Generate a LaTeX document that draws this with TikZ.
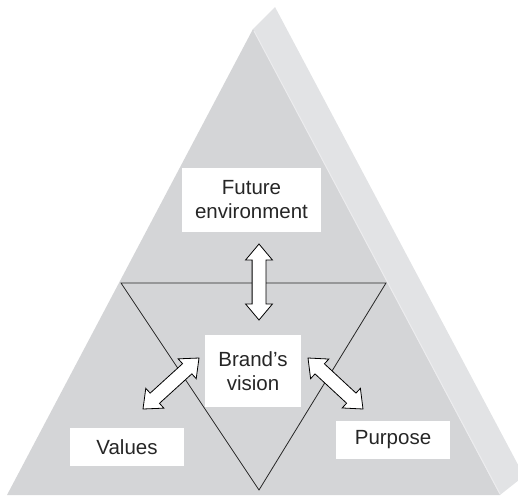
\documentclass[tikz,border=0pt]{standalone}
\usepackage{fontspec}
\setmainfont{Liberation Sans}
\usetikzlibrary{shapes.arrows,calc}
\definecolor{frontgray}{HTML}{D4D5D7}
\definecolor{sidegray}{HTML}{E2E3E5}
\definecolor{edgehl}{HTML}{ECECEE}
\tikzset{
  label box/.style={fill=white, inner sep=0pt, align=center, font=\fontsize{20.5}{24}\selectfont, text=black!85},
  block arrow/.style={double arrow, draw=black, line width=0.8pt, fill=white, inner xsep=0pt, inner ysep=6.5pt,
    minimum width=26pt, double arrow head extend=6.5pt, double arrow tip angle=80, anchor=center},
  inner tri/.style={draw=black!85, line width=0.8pt}
}
\newcommand{\blockarr}[3]{%
  \path let \p1=(#2), \p2=(#3), \n1={atan2(\y2-\y1,\x2-\x1)}, \n2={veclen(\x2-\x1,\y2-\y1)} in
    node[block arrow, minimum height=\n2, rotate=\n1] (#1) at ($(#2)!0.5!(#3)$) {};}
\begin{document}
\begin{tikzpicture}[x=1pt,y=-1pt]
\useasboundingbox (0,0) rectangle (518,497);
% pyramid faces
\fill[sidegray] (253,29) -- (275,7) -- (524,476) -- (500,495) -- cycle;
\fill[frontgray] (253,29) -- (7,495) -- (500,495) -- cycle;
\draw[edgehl, line width=1pt] (254,31) -- (500,494);
% inner inverted triangle
\draw[inner tri] (121,283) -- (386,283) -- (259,490) -- cycle;
% labels
\node[label box, minimum width=139pt, minimum height=64pt] (future) at (251.5,200) {Future\\environment};
\node[label box, minimum width=96pt, minimum height=72pt] (vision) at (253,371) {Brand’s\\vision};
\node[label box, minimum width=114pt, minimum height=38pt] (values) at (127,447) {Values};
\node[label box, minimum width=114pt, minimum height=38pt] (purpose) at (393,440) {Purpose};
% arrow end points
\coordinate (vt) at (259,244);
\coordinate (vb) at (259,320);
\coordinate (lt) at (199,358);
\coordinate (lb) at (143,409);
\coordinate (rt) at (308,358);
\coordinate (rb) at (363,409);
\blockarr{av}{vt}{vb}
\blockarr{al}{lt}{lb}
\blockarr{ar}{rt}{rb}
\end{tikzpicture}
\end{document}
